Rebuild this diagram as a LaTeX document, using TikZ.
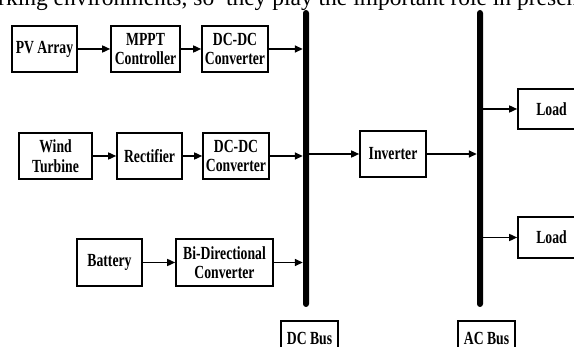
\documentclass[tikz,border=0pt]{standalone}
\usepackage{fontspec}
\usetikzlibrary{arrows.meta}
\newfontfamily\boxfont[FakeStretch=0.74]{Liberation Serif}
\newfontfamily\pagefont{Liberation Serif}
\begin{document}
\begin{tikzpicture}[x=1pt,y=-1pt,
  blk/.style={draw, line width=1.6pt, inner sep=0pt, align=center,
    font=\boxfont\bfseries\fontsize{18.5}{19.5}\selectfont, minimum height=46},
  busbar/.style={fill=black, rounded corners=3pt, inner sep=0pt,
    minimum width=6, minimum height=297},
  flow/.style={line width=1.5pt, -{Triangle[length=8pt,width=7pt]}}]
\useasboundingbox (0,0) rectangle (574,347);
\fill[white] (0,0) rectangle (574,347);
\clip (0,0) rectangle (574,347);

% running text of the page above the figure
\node[anchor=base west, inner sep=0pt, font=\pagefont\fontsize{23.5}{26}\selectfont]
  (pagetext) at (-2,6) {rking environments, so\ \ they play the important role in presen};

% buses
\node[busbar] (dcbus) at (306,158.5) {};
\node[busbar] (acbus) at (480,158.5) {};

% source chains
\node[blk, minimum width=65] (pv)   at (44.5,49) {PV Array};
\node[blk, minimum width=69] (mppt) at (145.5,49) {MPPT\\Controller};
\node[blk, minimum width=66] (dc1)  at (235,49) {DC-DC\\Converter};

\node[blk, minimum width=73] (wind) at (55.5,156) {Wind\\Turbine};
\node[blk, minimum width=65] (rect) at (149.5,156) {Rectifier};
\node[blk, minimum width=66] (dc2)  at (236,156) {DC-DC\\Converter};

\node[blk, minimum width=65, minimum height=47] (bat)  at (109.5,262.5) {Battery};
\node[blk, minimum width=97, minimum height=47] (bidi) at (224.5,262.5) {Bi-Directional\\Converter};

% conversion and loads
\node[blk, minimum width=66] (inv) at (393,154) {Inverter};
\node[blk, minimum width=67, minimum height=40] (load1) at (551.5,109) {Load};
\node[blk, minimum width=67, minimum height=41] (load2) at (551.5,237.5) {Load};

% bus labels
\node[blk, minimum width=57, minimum height=34] (dclabel) at (309.5,338) {DC Bus};
\node[blk, minimum width=57, minimum height=34] (aclabel) at (486.5,338) {AC Bus};

% connectors
\draw[flow] (pv) -- (mppt);
\draw[flow] (mppt) -- (dc1);
\draw[flow] (dc1) -- (dc1 -| dcbus.west);
\draw[flow] (wind) -- (rect);
\draw[flow] (rect) -- (dc2);
\draw[flow] (dc2.east) -- (dc2 -| dcbus.west);
\draw[flow] (bat) -- (bidi);
\draw[flow] (bidi) -- (bidi -| dcbus.west);
\draw[flow] (inv -| dcbus.east) -- (inv);
\draw[flow] (inv) -- (inv -| acbus.west);
\draw[flow] (load1 -| acbus.east) -- (load1);
\draw[flow] (load2 -| acbus.east) -- (load2);
\end{tikzpicture}
\end{document}
